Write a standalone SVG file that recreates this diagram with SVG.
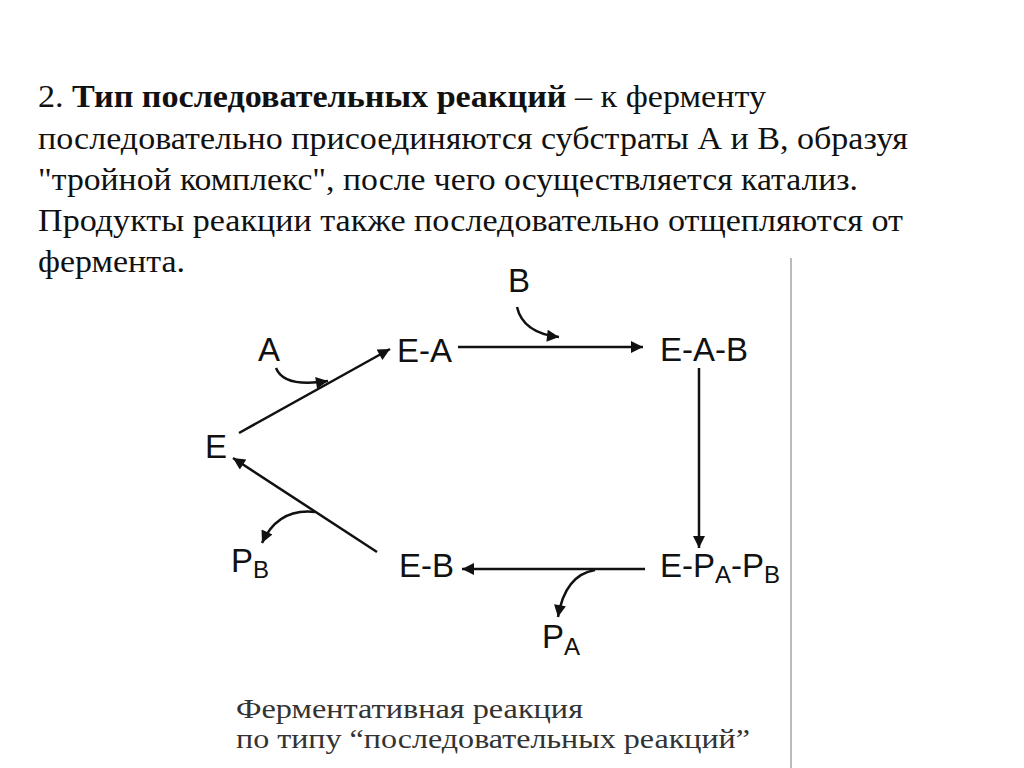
<svg xmlns="http://www.w3.org/2000/svg" width="1024" height="768" viewBox="0 0 1024 768">
<defs>
<style>
.t{font-family:"Liberation Serif","Times New Roman",serif;font-size:32px;fill:#111}
.b{font-weight:bold}
.cap{font-family:"Liberation Serif","Times New Roman",serif;font-size:27px;fill:#333}
.n{font-family:"Liberation Sans",Arial,sans-serif;font-size:33px;fill:#111}
.s{font-size:24px}
.ln{stroke:#111;stroke-width:2.5;fill:none}
</style>
<marker id="ah" viewBox="0 0 10 10" refX="10" refY="5" markerWidth="15" markerHeight="12" markerUnits="userSpaceOnUse" orient="auto"><path d="M0,0 L10,5 L0,10 z" fill="#111"/></marker>
</defs>
<rect width="1024" height="768" fill="#fff"/>
<g id="text">
<text class="t" x="38" y="107" textLength="728" lengthAdjust="spacingAndGlyphs">2. <tspan class="b">Тип последовательных реакций</tspan> – к ферменту</text>
<text class="t" x="38" y="149" textLength="870" lengthAdjust="spacingAndGlyphs">последовательно присоединяются субстраты А и В, образуя</text>
<text class="t" x="38" y="190" textLength="820" lengthAdjust="spacingAndGlyphs">"тройной комплекс", после чего осуществляется катализ.</text>
<text class="t" x="38" y="231" textLength="865" lengthAdjust="spacingAndGlyphs">Продукты реакции также последовательно отщепляются от</text>
<text class="t" x="38" y="272" textLength="147" lengthAdjust="spacingAndGlyphs">фермента.</text>
</g>
<line x1="791" y1="258" x2="791" y2="768" stroke="#bbb" stroke-width="2"/>
<g id="E"><text class="n" x="205" y="458">E</text></g>
<g id="EA"><text class="n" x="397" y="362">E-A</text></g>
<g id="EAB"><text class="n" x="660" y="361">E-A-B</text></g>
<g id="EPAPB"><text class="n" x="660" y="577">E-P<tspan class="s" dy="6">A</tspan><tspan dy="-6">-P</tspan><tspan class="s" dy="6">B</tspan></text></g>
<g id="EB"><text class="n" x="399" y="577">E-B</text></g>
<g id="labA"><text class="n" x="258" y="361">A</text></g>
<g id="labB"><text class="n" x="508" y="292">B</text></g>
<g id="labPA"><text class="n" x="542" y="648">P<tspan class="s" dy="7">A</tspan></text></g>
<g id="labPB"><text class="n" x="231" y="572">P<tspan class="s" dy="6">B</tspan></text></g>
<g id="connectors">
<line class="ln" x1="239" y1="433" x2="390" y2="349" marker-end="url(#ah)"/>
<line class="ln" x1="458" y1="347" x2="643" y2="347" marker-end="url(#ah)"/>
<line class="ln" x1="699" y1="368" x2="699" y2="548" marker-end="url(#ah)"/>
<line class="ln" x1="645" y1="569" x2="462" y2="569" marker-end="url(#ah)"/>
<line class="ln" x1="377" y1="552" x2="233" y2="458" marker-end="url(#ah)"/>
<path class="ln" d="M276,368 Q284,388 328,381" marker-end="url(#ah)"/>
<path class="ln" d="M517,307 Q523,333 559,337" marker-end="url(#ah)"/>
<path class="ln" d="M595,570 Q565,575 558,617" marker-end="url(#ah)"/>
<path class="ln" d="M315,512 Q278,508 262,543" marker-end="url(#ah)"/>
</g>
<g id="caption">
<text class="cap" x="236" y="718" textLength="347" lengthAdjust="spacingAndGlyphs">Ферментативная реакция</text>
<text class="cap" x="236" y="748" textLength="514" lengthAdjust="spacingAndGlyphs">по типу “последовательных реакций”</text>
</g>
</svg>
